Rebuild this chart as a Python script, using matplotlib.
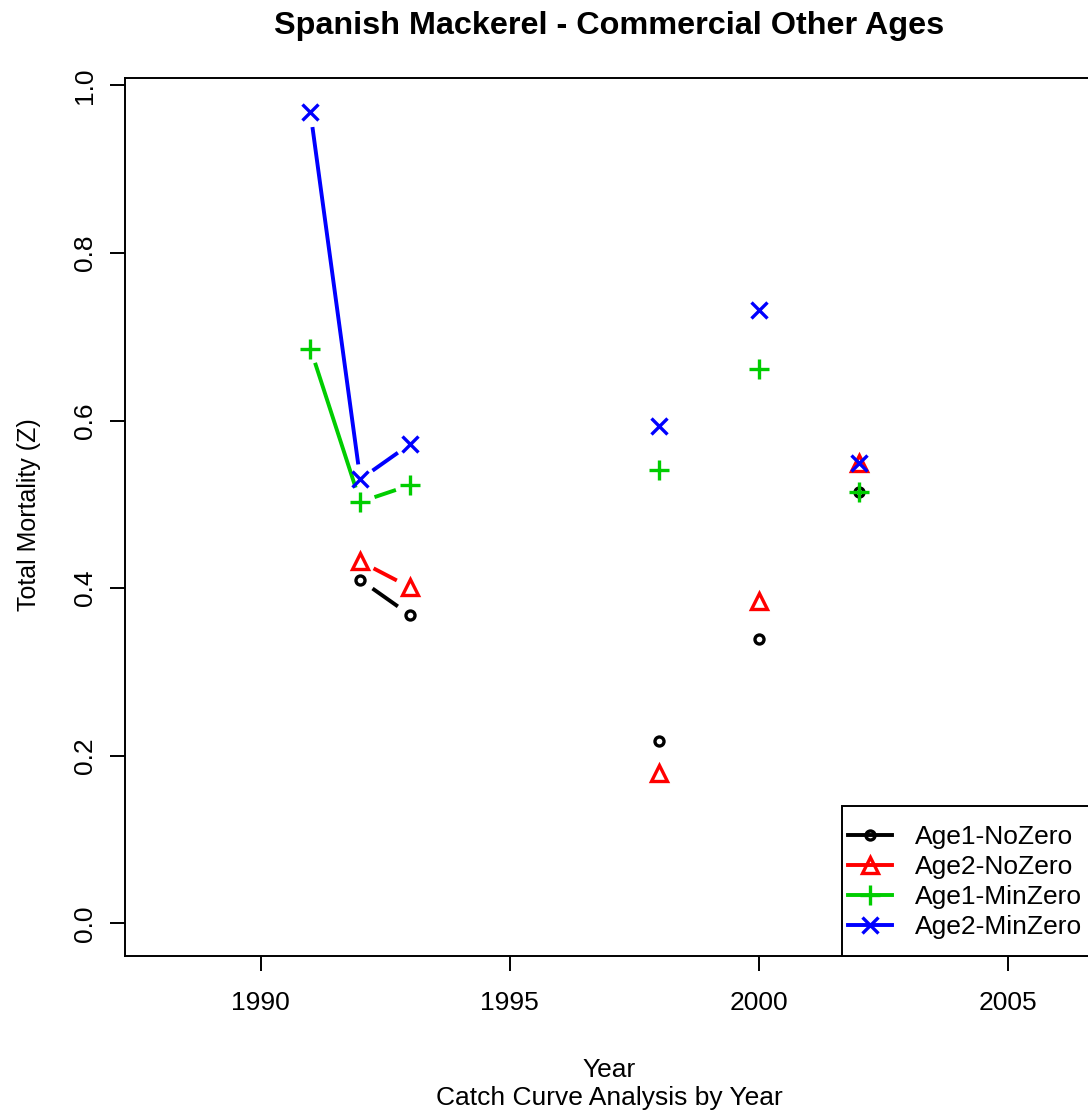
import numpy as np
import matplotlib
matplotlib.use("Agg")
import matplotlib.pyplot as plt
from matplotlib.lines import Line2D
from matplotlib.patches import Rectangle

# ---------------- data ----------------
years = [1991, 1992, 1993, 1994, 1995, 1996, 1997, 1998, 1999, 2000, 2001, 2002]
nan = np.nan
age1_nozero  = [nan, 0.410, 0.368, nan, nan, nan, nan, 0.218, nan, 0.340, nan, 0.515]
age2_nozero  = [nan, 0.432, 0.401, nan, nan, nan, nan, 0.179, nan, 0.385, nan, 0.550]
age1_minzero = [0.686, 0.503, 0.523, nan, nan, nan, nan, 0.541, nan, 0.662, nan, 0.515]
age2_minzero = [0.968, 0.530, 0.572, nan, nan, nan, nan, 0.594, nan, 0.732, nan, 0.550]
series_labels = ["Age1-NoZero", "Age2-NoZero", "Age1-MinZero", "Age2-MinZero"]
xticks = [1990, 1995, 2000, 2005]
yticks = [0.0, 0.2, 0.4, 0.6, 0.8, 1.0]
title = "Spanish Mackerel - Commercial Other Ages"
xlabel = "Year"
sublabel = "Catch Curve Analysis by Year"
ylabel = "Total Mortality (Z)"

# ---------------- style ----------------
plt.rcParams['font.family'] = ['Liberation Sans', 'DejaVu Sans']
colors = ['black', '#FF0000', '#00CD00', '#0000FF']
markers = ['o', '^', '+', 'x']
msizes = [6.5, 11.5, 14, 11]
LW = 2.8
MEW = 2.4
GAP = 15  # pixels gap between line ends and points (R type="b")

W, H = 1088, 1115
fig = plt.figure(figsize=(W / 100, H / 100), dpi=100)
L, R, T, B = 125, 1094, 78, 956
ax = fig.add_axes([L / W, 1 - B / H, (R - L) / W, (B - T) / H])

ax.set_xlim(1987.28, 2006.72)
ax.set_ylim(-0.0388, 1.0088)

all_series = [age1_nozero, age2_nozero, age1_minzero, age2_minzero]

handles = []
for vals, c, m, ms, lab in zip(all_series, colors, markers, msizes, series_labels):
    x = np.array(years, dtype=float)
    y = np.array(vals, dtype=float)
    # connecting segments with gaps (like R type="b")
    for i in range(len(x) - 1):
        if np.isnan(y[i]) or np.isnan(y[i + 1]):
            continue
        p0 = ax.transData.transform((x[i], y[i]))
        p1 = ax.transData.transform((x[i + 1], y[i + 1]))
        d = p1 - p0
        n = np.hypot(*d)
        if n <= 2 * GAP:
            continue
        u = d / n
        q0 = ax.transData.inverted().transform(p0 + u * GAP)
        q1 = ax.transData.inverted().transform(p1 - u * GAP)
        ax.plot([q0[0], q1[0]], [q0[1], q1[1]], color=c, lw=LW,
                solid_capstyle='butt')
    ax.plot(x, y, linestyle='none', marker=m, markersize=ms,
            markerfacecolor='none', markeredgecolor=c, markeredgewidth=MEW)
    handles.append(Line2D([0], [0], color=c, lw=LW, marker=m, markersize=ms,
                          markerfacecolor='none', markeredgecolor=c,
                          markeredgewidth=MEW, label=lab))

# axes styling
for sp in ax.spines.values():
    sp.set_linewidth(1.4)
ax.set_xticks(xticks)
ax.set_xticklabels([str(v) for v in xticks])
ax.set_yticks(yticks)
ax.set_yticklabels([f"{v:.1f}" for v in yticks], rotation=90, va='center')
ax.tick_params(axis='both', direction='out', length=11, width=1.4,
               labelsize=19)
ax.tick_params(axis='x', pad=14)
ax.tick_params(axis='y', pad=9)

# legend (R style box anchored at bottom-right of plot region)
frame = Rectangle((842 / W, 1 - 956 / H), (1110 - 842) / W, (956 - 806) / H,
                  transform=fig.transFigure, facecolor='white',
                  edgecolor='black', lw=1.4, zorder=4, clip_on=False)
ax.add_patch(frame)
leg = ax.legend(handles=handles, loc='lower left', fontsize=19,
                bbox_to_anchor=(848 / W, 1 - 939 / H),
                bbox_transform=fig.transFigure,
                borderaxespad=0, frameon=False, handlelength=1.67,
                handletextpad=0.87, borderpad=0, labelspacing=0.23,
                numpoints=1)
leg.set_zorder(5)

cx = (L + R) / 2 / W
fig.text(cx, 1 - 34 / H, title, ha='center', va='baseline',
         fontsize=23.3, fontweight='bold')
fig.text(cx, 1 - 1077 / H, xlabel, ha='center', va='baseline', fontsize=19)
fig.text(cx, 1 - 1105 / H, sublabel, ha='center', va='baseline', fontsize=19)
fig.text(36 / W, 1 - 515 / H, ylabel, ha='center', va='baseline',
         rotation=90, rotation_mode='anchor', fontsize=18)

fig.savefig("out.png", dpi=100)
